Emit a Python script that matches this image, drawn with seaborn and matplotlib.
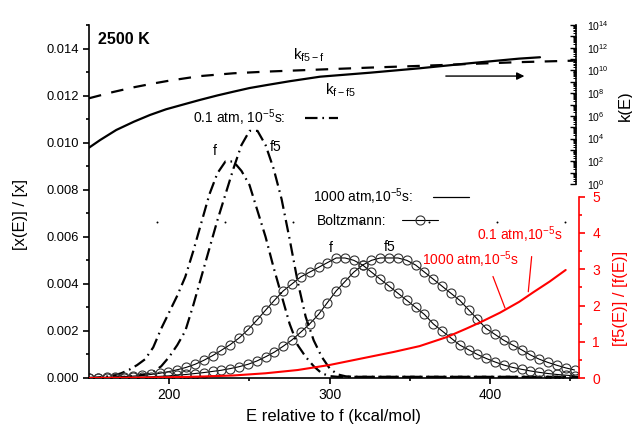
import matplotlib
matplotlib.use("Agg")
import numpy as np
import pandas as pd
import matplotlib.pyplot as plt
import seaborn as sns
from matplotlib.lines import Line2D
from matplotlib.ticker import FixedLocator, FuncFormatter, NullFormatter

# ---------------- data ----------------
# Boltzmann / 1000 atm distributions (left axis)
E_boltz = [150, 155.5, 161, 166.5, 172, 177.5, 183, 188.5, 194, 199.5, 205, 210.5, 216, 221.5,
           227, 232.5, 238, 243.5, 249, 254.5, 260, 265.5, 271, 276.5, 282, 287.5, 293, 298.5,
           304, 309.5, 315, 320.5, 326, 331.5, 337, 342.5, 348, 353.5, 359, 364.5, 370, 375.5,
           381, 386.5, 392, 397.5, 403, 408.5, 414, 419.5, 425, 430.5, 436, 441.5, 447, 452.5]
f_boltz = [0.00001, 0.00002, 0.00003, 0.00004, 0.00006, 0.00008, 0.00011, 0.00015, 0.0002, 0.00027,
           0.00035, 0.00045, 0.00058, 0.00075, 0.00095, 0.00118, 0.00142, 0.0017, 0.00205, 0.00245,
           0.00288, 0.0033, 0.0037, 0.0040, 0.0043, 0.0045, 0.0047, 0.0049, 0.0051, 0.0051,
           0.0050, 0.0048, 0.0045, 0.0042, 0.0039, 0.0036, 0.0033, 0.0030, 0.0027, 0.0023,
           0.0020, 0.0017, 0.0014, 0.0012, 0.0010, 0.00083, 0.00068, 0.00055, 0.00045, 0.00037,
           0.0003, 0.00024, 0.00019, 0.00015, 0.00012, 0.00009]
f5_boltz = [0.0, 0.0, 0.00001, 0.00001, 0.00002, 0.00003, 0.00004, 0.00005, 0.00007, 0.00009,
            0.00012, 0.00015, 0.00019, 0.00023, 0.00028, 0.00033, 0.0004, 0.00048, 0.00058, 0.00072,
            0.0009, 0.0011, 0.00135, 0.00162, 0.00195, 0.0023, 0.0027, 0.0032, 0.0037, 0.0041,
            0.0045, 0.0048, 0.0050, 0.0051, 0.0051, 0.0051, 0.0050, 0.0048, 0.0045, 0.0042,
            0.0039, 0.0036, 0.0033, 0.0029, 0.0025, 0.0021, 0.00185, 0.0016, 0.0014, 0.0012,
            0.00098, 0.0008, 0.00066, 0.00054, 0.00043, 0.00034]

# 0.1 atm, 1e-5 s distributions (left axis)
E_01 = [150, 155, 160, 165, 170, 175, 180, 185, 190, 195, 200, 205, 210, 215, 220, 225, 230, 235,
        240, 245, 250, 255, 260, 265, 270, 275, 280, 285, 290, 295, 300, 305, 310, 315, 320, 325,
        330, 335, 340, 345, 350, 355, 360, 365, 370, 375, 380, 385, 390, 395, 400, 405, 410, 415,
        420, 425, 430, 435, 440, 445, 450, 455]
f_01 = [0.0, 0.00002, 0.00005, 0.0001, 0.0002, 0.00035, 0.00055, 0.0008, 0.0013, 0.0021,
        0.0028, 0.0035, 0.0043, 0.0054, 0.0066, 0.0078, 0.0087, 0.0092, 0.0092, 0.0088,
        0.0082, 0.0071, 0.0060, 0.0047, 0.0035, 0.0023, 0.0014, 0.0009, 0.0005, 0.0002,
        0.00008, 0.00005, 0.00005, 0.00005, 0.00005, 0.00005, 0.00005, 0.00005, 0.00005, 0.00005,
        0.00005, 0.00005, 0.00005, 0.00005, 0.00005, 0.00005, 0.00005, 0.00005, 0.00005, 0.00005,
        0.00005, 0.00005, 0.00005, 0.00005, 0.00005, 0.00005, 0.00005, 0.00005, 0.00005, 0.00005,
        0.00005, 0.00005]
f5_01 = [0.0, 0.0, 0.00001, 0.00002, 0.00004, 0.00007, 0.0001, 0.00015, 0.00025, 0.0005,
         0.0009, 0.0014, 0.0020, 0.0031, 0.0043, 0.0055, 0.0067, 0.0078, 0.0089, 0.0099,
         0.0105, 0.0105, 0.0099, 0.0089, 0.0076, 0.0059, 0.0041, 0.0026, 0.0016, 0.0009,
         0.0004, 0.00015, 0.00007, 0.00005, 0.00005, 0.00005, 0.00005, 0.00005, 0.00005, 0.00005,
         0.00005, 0.00005, 0.00005, 0.00005, 0.00005, 0.00005, 0.00005, 0.00005, 0.00005, 0.00005,
         0.00005, 0.00005, 0.00005, 0.00005, 0.00005, 0.00005, 0.00005, 0.00005, 0.00005, 0.00005,
         0.00005, 0.00005]

# rate constants (log10 k, right log axis)
E_k_ff5 = [150, 157, 167, 178, 188, 198, 210, 219, 230, 240, 250, 261, 275, 294, 325, 356, 387, 418, 431]
logk_ff5 = [3.2, 3.88, 4.76, 5.49, 6.08, 6.58, 7.05, 7.4, 7.8, 8.13, 8.45, 8.72, 9.05, 9.45, 9.8,
            10.19, 10.63, 11.04, 11.16]
E_k_f5f = [150, 165, 178, 190, 200, 219, 240, 261, 294, 325, 356, 387, 418, 452]
logk_f5f = [7.55, 8.1, 8.52, 8.85, 9.1, 9.5, 9.75, 9.9, 10.08, 10.25, 10.4, 10.57, 10.73, 10.86]

# ratio [f5(E)]/[f(E)] (red axis)
E_ratio = [150, 180, 200, 220, 240, 260, 280, 300, 320, 340, 356, 373, 385, 394, 406, 418, 427, 437, 447]
ratio = [0.0, 0.01, 0.02, 0.04, 0.07, 0.13, 0.22, 0.36, 0.54, 0.72, 0.88, 1.13, 1.36, 1.54, 1.8,
         2.1, 2.37, 2.66, 2.98]

# faint dotted guide row
stray_E = [192.4, 234.7, 277.1, 319.5, 361.8, 404.2, 446.6]
stray_y = [0.00665, 0.00665, 0.00665, 0.00665, 0.00665, 0.00665, 0.00665]

x_major = [200, 300, 400]
x_minor = [250, 350, 450]
y_major = [0.0, 0.002, 0.004, 0.006, 0.008, 0.010, 0.012, 0.014]
y_minor = [0.001, 0.003, 0.005, 0.007, 0.009, 0.011, 0.013, 0.015]
r_major = [0, 1, 2, 3, 4, 5]
r_minor = [0.5, 1.5, 2.5, 3.5, 4.5]

# ---------------- style ----------------
sns.set_theme(style="ticks")
plt.rcParams["font.family"] = ["Liberation Sans", "DejaVu Sans"]
plt.rcParams.update({
    "mathtext.fontset": "custom",
    "mathtext.rm": "Liberation Sans",
    "mathtext.it": "Liberation Sans:italic",
    "mathtext.bf": "Liberation Sans:bold",
    "lines.scale_dashes": False,
    "axes.linewidth": 1.2,
    "text.color": "black",
    "axes.labelcolor": "black",
    "axes.edgecolor": "black",
    "xtick.color": "black",
    "ytick.color": "black",
})

W, H = 632, 430


def P(x, y):
    return x / W, 1 - y / H


fig = plt.figure(figsize=(6.32, 4.30), dpi=100)
ax = fig.add_axes([89 / W, 52 / H, 490 / W, 353 / H])

DASHDOT = (0, (9, 3.5, 1.2, 3.5))
DASHED = (0, (9, 7.5))

# 0.1 atm curves
sns.lineplot(x=E_01, y=f_01, ax=ax, color="black", lw=1.6, linestyle=DASHDOT)
sns.lineplot(x=E_01, y=f5_01, ax=ax, color="black", lw=1.6, linestyle=DASHDOT)
# Boltzmann / 1000 atm curves
bkw = dict(color="black", lw=0.8, marker="o", markersize=6.5, markerfacecolor="none",
           markeredgecolor="#333333", markeredgewidth=0.8)
sns.lineplot(x=E_boltz, y=f_boltz, ax=ax, **bkw)
sns.lineplot(x=E_boltz, y=f5_boltz, ax=ax, **bkw)
sns.scatterplot(x=stray_E, y=stray_y, ax=ax, s=2, color="black", linewidth=0)

ax.set_xlim(150, 455.3)
ax.set_ylim(0, 0.015)
ax.xaxis.set_major_locator(FixedLocator(x_major))
ax.xaxis.set_minor_locator(FixedLocator(x_minor))
ax.yaxis.set_major_locator(FixedLocator(y_major))
ax.yaxis.set_minor_locator(FixedLocator(y_minor))
ax.yaxis.set_major_formatter(FuncFormatter(lambda v, p: f"{v:.3f}"))
ax.tick_params(axis="both", which="major", direction="out", length=4.5, width=1.2)
ax.tick_params(axis="both", which="minor", direction="out", length=2.5, width=1.2)
ax.tick_params(axis="x", labelsize=10, pad=3)
ax.tick_params(axis="y", labelsize=9.3, pad=3)
for s in ["top", "right"]:
    ax.spines[s].set_visible(False)

ax.set_xlabel("E relative to f (kcal/mol)", fontsize=12)
ax.xaxis.label.set_va("center")
ax.xaxis.set_label_coords((334 - 89) / 490, (378 - 417) / 353)
ax.set_ylabel("[x(E)] / [x]", fontsize=12)
ax.yaxis.label.set_va("center")
ax.yaxis.set_label_coords((21 - 89) / 490, (378 - 215) / 353)

# arrow toward k axis
ax.annotate("", xy=(423.0, 0.01283), xytext=(370.6, 0.01283),
            arrowprops=dict(arrowstyle="-|>", lw=1.0, color="black", mutation_scale=11))

# ---------------- red ratio axis ----------------
ax_r = ax.twinx()
sns.lineplot(x=E_ratio, y=ratio, ax=ax_r, color="red", lw=1.5)
ax_r.set_ylim(0, 353 / 36.25)
for s in ["left", "top", "bottom"]:
    ax_r.spines[s].set_visible(False)
ax_r.spines["right"].set_color("red")
ax_r.spines["right"].set_bounds(0, 5)
ax_r.yaxis.set_major_locator(FixedLocator(r_major))
ax_r.yaxis.set_minor_locator(FixedLocator(r_minor))
ax_r.yaxis.set_major_formatter(FuncFormatter(lambda v, p: f"{v:.0f}"))
ax_r.tick_params(axis="y", which="major", direction="out", length=4.5, width=1.2,
                 colors="red", labelsize=10, pad=5)
ax_r.tick_params(axis="y", which="minor", direction="out", length=2.5, width=1.2, colors="red")
ax_r.set_ylabel("[f5(E)] / [f(E)]", fontsize=12, color="red")
ax_r.yaxis.label.set_va("center")
ax_r.yaxis.set_label_coords((620 - 89) / 490, (378 - 298) / 353)

# leader lines for red labels
ax_r.annotate("", xy=(423.7, 2.38), xytext=(425.8, 3.35),
              arrowprops=dict(arrowstyle="-", lw=0.9, color="red", shrinkA=0, shrinkB=0))
ax_r.annotate("", xy=(409.2, 1.93), xytext=(401.7, 2.80),
              arrowprops=dict(arrowstyle="-", lw=0.9, color="red", shrinkA=0, shrinkB=0))

# ---------------- k(E) log axis ----------------
ax_k = ax.twinx()
ax_k.set_yscale("log")
ax_k.set_ylim(10 ** (14 - 353 / 11.36), 1e14)
sns.lineplot(x=E_k_ff5, y=10 ** np.array(logk_ff5), ax=ax_k, color="black", lw=1.6)
sns.lineplot(x=E_k_f5f, y=10 ** np.array(logk_f5f), ax=ax_k, color="black", lw=1.6,
             linestyle=DASHED)
ax_k.set_ylim(10 ** (14 - 353 / 11.36), 1e14)
for s in ["left", "top", "bottom"]:
    ax_k.spines[s].set_visible(False)
ax_k.spines["right"].set_bounds(1, 1e14)
ax_k.spines["right"].set_position(("outward", -2.2))
k_major = [10.0 ** i for i in range(15)]
k_minor = [m * 10.0 ** i for i in range(14) for m in range(2, 10)]
ax_k.yaxis.set_major_locator(FixedLocator(k_major))
ax_k.yaxis.set_minor_locator(FixedLocator(k_minor))
ax_k.yaxis.set_major_formatter(FuncFormatter(
    lambda v, p: (r"$\mathregular{10^{%d}}$" % round(np.log10(v))) if round(np.log10(v)) % 2 == 0 else ""))
ax_k.yaxis.set_minor_formatter(NullFormatter())
ax_k.tick_params(axis="y", which="major", direction="in", length=4, width=1.0, labelsize=7.5, pad=8)
ax_k.tick_params(axis="y", which="minor", direction="in", length=2.2, width=0.7)
ax_k.set_ylabel("k(E)", fontsize=12)
ax_k.yaxis.label.set_va("center")
ax_k.yaxis.set_label_coords((625 - 89) / 490, (378 - 106) / 353)

# ---------------- legends ----------------
fs = 10
h1 = Line2D([], [], color="black", lw=1.6, linestyle=DASHDOT)
h2 = Line2D([], [], color="black", lw=0.9)
h3 = Line2D([], [], **bkw)
leg_kw = dict(loc="center left", bbox_transform=fig.transFigure, frameon=False, markerfirst=False,
              borderpad=0, borderaxespad=0, fontsize=fs, numpoints=1)
l1 = ax.legend([h1], [r"0.1 atm, 10$^{\mathregular{-5}}$s:"], bbox_to_anchor=P(193, 118),
               handlelength=2.4, handletextpad=1.4, **leg_kw)
ax.add_artist(l1)
l2 = ax.legend([h2], [r"1000 atm,10$^{\mathregular{-5}}$s:"], bbox_to_anchor=P(313, 197),
               handlelength=2.65, handletextpad=1.4, **leg_kw)
ax.add_artist(l2)
l3 = ax.legend([h3], ["Boltzmann:"], bbox_to_anchor=P(317, 221),
               handlelength=2.6, handletextpad=1.1, **leg_kw)

# ---------------- text labels ----------------
fig.text(*P(98, 40), "2500 K", fontsize=11.5, fontweight="bold", ha="left", va="center")
fig.text(*P(293, 60), r"k$_{\mathregular{f5-f}}$", fontsize=11, ha="left", va="baseline")
fig.text(*P(325, 95), r"k$_{\mathregular{f-f5}}$", fontsize=11, ha="left", va="baseline")
fig.text(*P(215, 151), "f", fontsize=10, ha="center", va="center")
fig.text(*P(276, 147), "f5", fontsize=10, ha="center", va="center")
fig.text(*P(331, 248), "f", fontsize=10, ha="center", va="center")
fig.text(*P(390, 247), "f5", fontsize=10, ha="center", va="center")
fig.text(*P(477, 235), r"0.1 atm,10$^{\mathregular{-5}}$s", fontsize=10, color="red",
         ha="left", va="center")
fig.text(*P(422, 260), r"1000 atm,10$^{\mathregular{-5}}$s", fontsize=10, color="red",
         ha="left", va="center")

fig.savefig("out.png", dpi=100)
